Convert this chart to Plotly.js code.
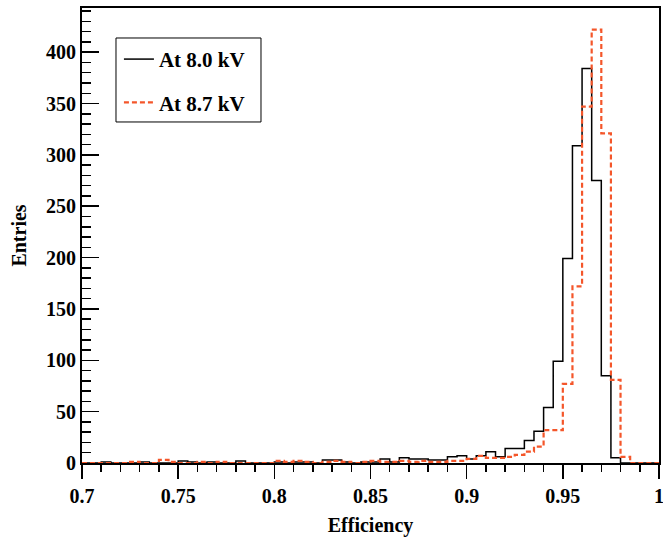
<!DOCTYPE html>
<html>
<head>
<meta charset="utf-8">
<script src="https://cdn.plot.ly/plotly-3.0.1.min.js"></script>
<style>
html,body{margin:0;padding:0;background:#fff;}
#chart{width:663px;height:537px;}
</style>
</head>
<body>
<div id="chart"></div>
<script>
// Histogram binning: 60 bins of width 0.005 from 0.700 to 1.000
var binLow = 0.700;
var binWidth = 0.005;
var nBins = 60;

// Counts per bin, At 8.0 kV
var counts80 = [
  0, 0, 1, 0, 0, 0, 1, 0, 0, 0,
  2, 1, 0, 1, 0, 0, 2, 0, 0, 0,
  1, 0, 1, 1, 0, 3, 3, 1, 0, 1,
  1, 4, 1, 5, 4, 4, 3, 3, 6, 7,
  4, 7, 11, 6, 14, 14, 22, 31, 54, 99,
  199, 309, 384, 275, 85, 5, 0, 0, 0, 0
];

// Counts per bin, At 8.7 kV
var counts87 = [
  0, 0, 0, 0, 0, 1, 0, 0, 3, 1,
  0, 0, 1, 0, 1, 0, 0, 0, 0, 0,
  2, 1, 2, 1, 0, 1, 2, 1, 0, 1,
  2, 1, 1, 2, 1, 2, 1, 1, 2, 2,
  4, 7, 5, 5, 6, 8, 11, 16, 32, 32,
  77, 172, 347, 422, 321, 81, 6, 0, 0, 0
];

var seriesNames = ["At 8.0 kV", "At 8.7 kV"];
var xTickVals = [0.7, 0.75, 0.8, 0.85, 0.9, 0.95, 1];
var xTickText = ["0.7", "0.75", "0.8", "0.85", "0.9", "0.95", "1"];
var yTickVals = [0, 50, 100, 150, 200, 250, 300, 350, 400];

// bin edges (axis categories) and step outline built from counts
var edges = [];
for (var i = 0; i <= nBins; i++) edges.push(+(binLow + i * binWidth).toFixed(3));
function stepY(c) { return c.concat([c[c.length - 1]]); }

var font = {family: "Liberation Serif", size: 20, color: "#000", weight: "bold"};
var legFont = {family: "Liberation Serif", size: 21, color: "#000", weight: "bold"};

var traces = [
  {
    x: edges, y: stepY(counts80), type: "scatter", mode: "lines",
    line: {shape: "hv", color: "#000", width: 1.5},
    name: seriesNames[0], legendgroup: "a"
  },
  {
    x: edges, y: stepY(counts87), type: "scatter", mode: "lines",
    line: {shape: "hv", color: "#f4562a", width: 2.2, dash: "5px,3px"},
    name: seriesNames[1], legendgroup: "b"
  }
];

var layout = {
  width: 663, height: 537,
  margin: {l: 82, r: 4, t: 8, b: 74},
  paper_bgcolor: "#fff", plot_bgcolor: "#fff",
  font: font,
  showlegend: true,
  legend: {
    x: 0.064, y: 0.932, xanchor: "left", yanchor: "top",
    borderwidth: 0, bgcolor: "rgba(0,0,0,0)",
    font: legFont, tracegroupgap: 13
  },
  shapes: [{
    type: "rect", xref: "paper", yref: "paper",
    x0: 0.0589, x1: 0.3102, y0: 0.7495, y1: 0.9341,
    line: {color: "#000", width: 1}, fillcolor: "#fff", layer: "below"
  }],
  xaxis: {
    range: [0.7, 1.0], showgrid: false, zeroline: false,
    showline: true, linecolor: "#000", linewidth: 2, mirror: true,
    ticks: "outside", ticklen: 14, tickwidth: 1.5, tickcolor: "#000",
    tickvals: xTickVals, ticktext: xTickText, tickfont: font,
    ticklabeloverflow: "allow",
    minor: {dtick: 0.01, tick0: 0.7, ticks: "outside", ticklen: 7, tickwidth: 1.5, tickcolor: "#000", showgrid: false},
    title: {text: "Efficiency", font: font, standoff: 12}
  },
  yaxis: {
    range: [0, 443], showgrid: false, zeroline: false,
    showline: true, linecolor: "#000", linewidth: 2, mirror: true,
    ticks: "inside", ticklen: 17, tickwidth: 1.5, tickcolor: "#000",
    tickvals: yTickVals, tickfont: font,
    minor: {dtick: 10, tick0: 0, ticks: "inside", ticklen: 9, tickwidth: 1.5, tickcolor: "#000", showgrid: false},
    title: {text: "Entries", font: font, standoff: 14}
  }
};

Plotly.newPlot("chart", traces, layout, {displayModeBar: false, staticPlot: true});
</script>
</body>
</html>
